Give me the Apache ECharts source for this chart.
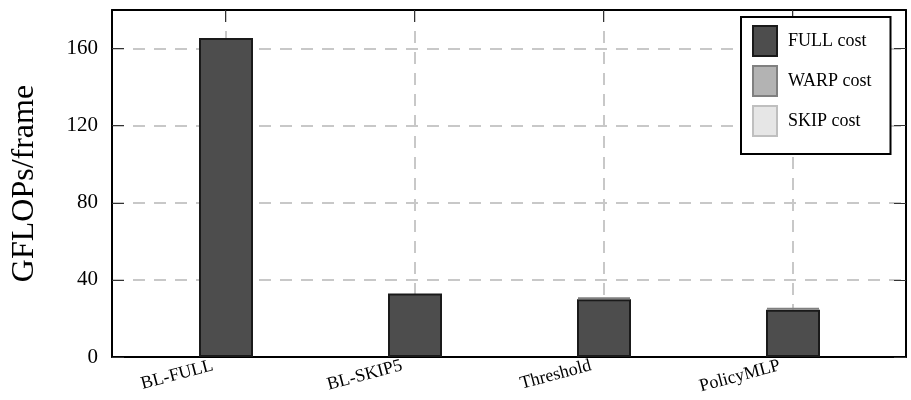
<!DOCTYPE html>
<html>
<head>
<meta charset="utf-8">
<script src="https://cdn.jsdelivr.net/npm/echarts@6/dist/echarts.min.js"></script>
<style>
html,body{margin:0;padding:0;background:#fff;}
#chart{width:911px;height:400px;}
</style>
</head>
<body>
<div id="chart"></div>
<script>
const categories = ['BL-FULL', 'BL-SKIP5', 'Threshold', 'PolicyMLP'];
const fullCost = [165.5, 33.0, 30.0, 24.5];
const warpCost = [0, 0, 1.0, 1.0];
const skipCost = [0, 0, 0, 0];
const yTicks = [0, 40, 80, 120, 160];

const FONT = 'Liberation Serif, DejaVu Serif, serif';
const positions = categories.map((c, i) => i);
const toData = arr => arr.map(v => (v ? v : '-'));

const chart = echarts.init(document.getElementById('chart'));
const gridLine = { show: true, lineStyle: { color: '#c8c8c8', width: 2, type: [12, 9] } };
const frameLine = { show: true, onZero: false, lineStyle: { color: '#000', width: 2 } };
const tick = { show: true, inside: true, length: 12, lineStyle: { color: '#333', width: 1 } };

chart.setOption({
  animation: false,
  backgroundColor: '#fff',
  grid: [
    { left: 112, right: 5, top: 10, bottom: 43, containLabel: false },
    { left: 131.5, width: 756, top: 10, bottom: 43, containLabel: false }
  ],
  legend: {
    orient: 'vertical',
    left: 741, top: 17,
    padding: [8, 19, 17, 11],
    icon: 'rect',
    itemWidth: 24, itemHeight: 30, itemGap: 8,
    borderColor: '#000', borderWidth: 2,
    backgroundColor: '#fff',
    textStyle: { fontFamily: FONT, fontSize: 18, color: '#000', padding: [6, 0, 0, 6] },
    data: ['FULL cost', 'WARP cost', 'SKIP cost']
  },
  xAxis: [{
    gridIndex: 0, type: 'value', min: -0.6, max: 3.6, position: 'bottom',
    axisLine: frameLine,
    axisTick: Object.assign({}, tick, { customValues: positions }),
    splitLine: Object.assign({}, gridLine, { customValues: positions }),
    axisLabel: {
      customValues: positions,
      formatter: v => categories[Math.round(v)] || '',
      rotate: 15, margin: 5, padding: [0, 13, 0, 0],
      fontFamily: FONT, fontSize: 18, color: '#000'
    }
  }, {
    gridIndex: 0, type: 'value', min: -0.6, max: 3.6, position: 'top',
    axisLine: frameLine,
    axisTick: Object.assign({}, tick, { customValues: positions }),
    splitLine: { show: false },
    axisLabel: { show: false }
  }, {
    gridIndex: 1, type: 'category', data: categories, boundaryGap: true,
    show: false
  }],
  yAxis: [{
    gridIndex: 0, type: 'value', min: 0, max: 180, interval: 40, position: 'left',
    name: 'GFLOPs/frame', nameLocation: 'middle', nameGap: 71,
    nameTextStyle: { fontFamily: FONT, fontSize: 32, color: '#000' },
    axisLine: frameLine,
    axisTick: Object.assign({}, tick, { customValues: yTicks }),
    splitLine: gridLine,
    axisLabel: {
      customValues: yTicks,
      margin: 14, fontFamily: FONT, fontSize: 21, color: '#000'
    }
  }, {
    gridIndex: 0, type: 'value', min: 0, max: 180, interval: 40, position: 'right',
    axisLine: frameLine,
    axisTick: Object.assign({}, tick, { customValues: yTicks }),
    splitLine: { show: false },
    axisLabel: { show: false }
  }, {
    gridIndex: 1, type: 'value', min: 0, max: 180, show: false
  }],
  series: [{
    name: 'FULL cost', type: 'bar', stack: 'cost', barWidth: 54,
    xAxisIndex: 2, yAxisIndex: 2,
    itemStyle: { color: '#4d4d4d', borderColor: '#1a1a1a', borderWidth: 2 },
    data: toData(fullCost)
  }, {
    name: 'WARP cost', type: 'bar', stack: 'cost', barWidth: 54,
    xAxisIndex: 2, yAxisIndex: 2,
    itemStyle: { color: '#b3b3b3', borderColor: '#808080', borderWidth: 2 },
    data: toData(warpCost)
  }, {
    name: 'SKIP cost', type: 'bar', stack: 'cost', barWidth: 54,
    xAxisIndex: 2, yAxisIndex: 2,
    itemStyle: { color: '#e6e6e6', borderColor: '#bfbfbf', borderWidth: 2 },
    data: toData(skipCost)
  }]
});
</script>
</body>
</html>
